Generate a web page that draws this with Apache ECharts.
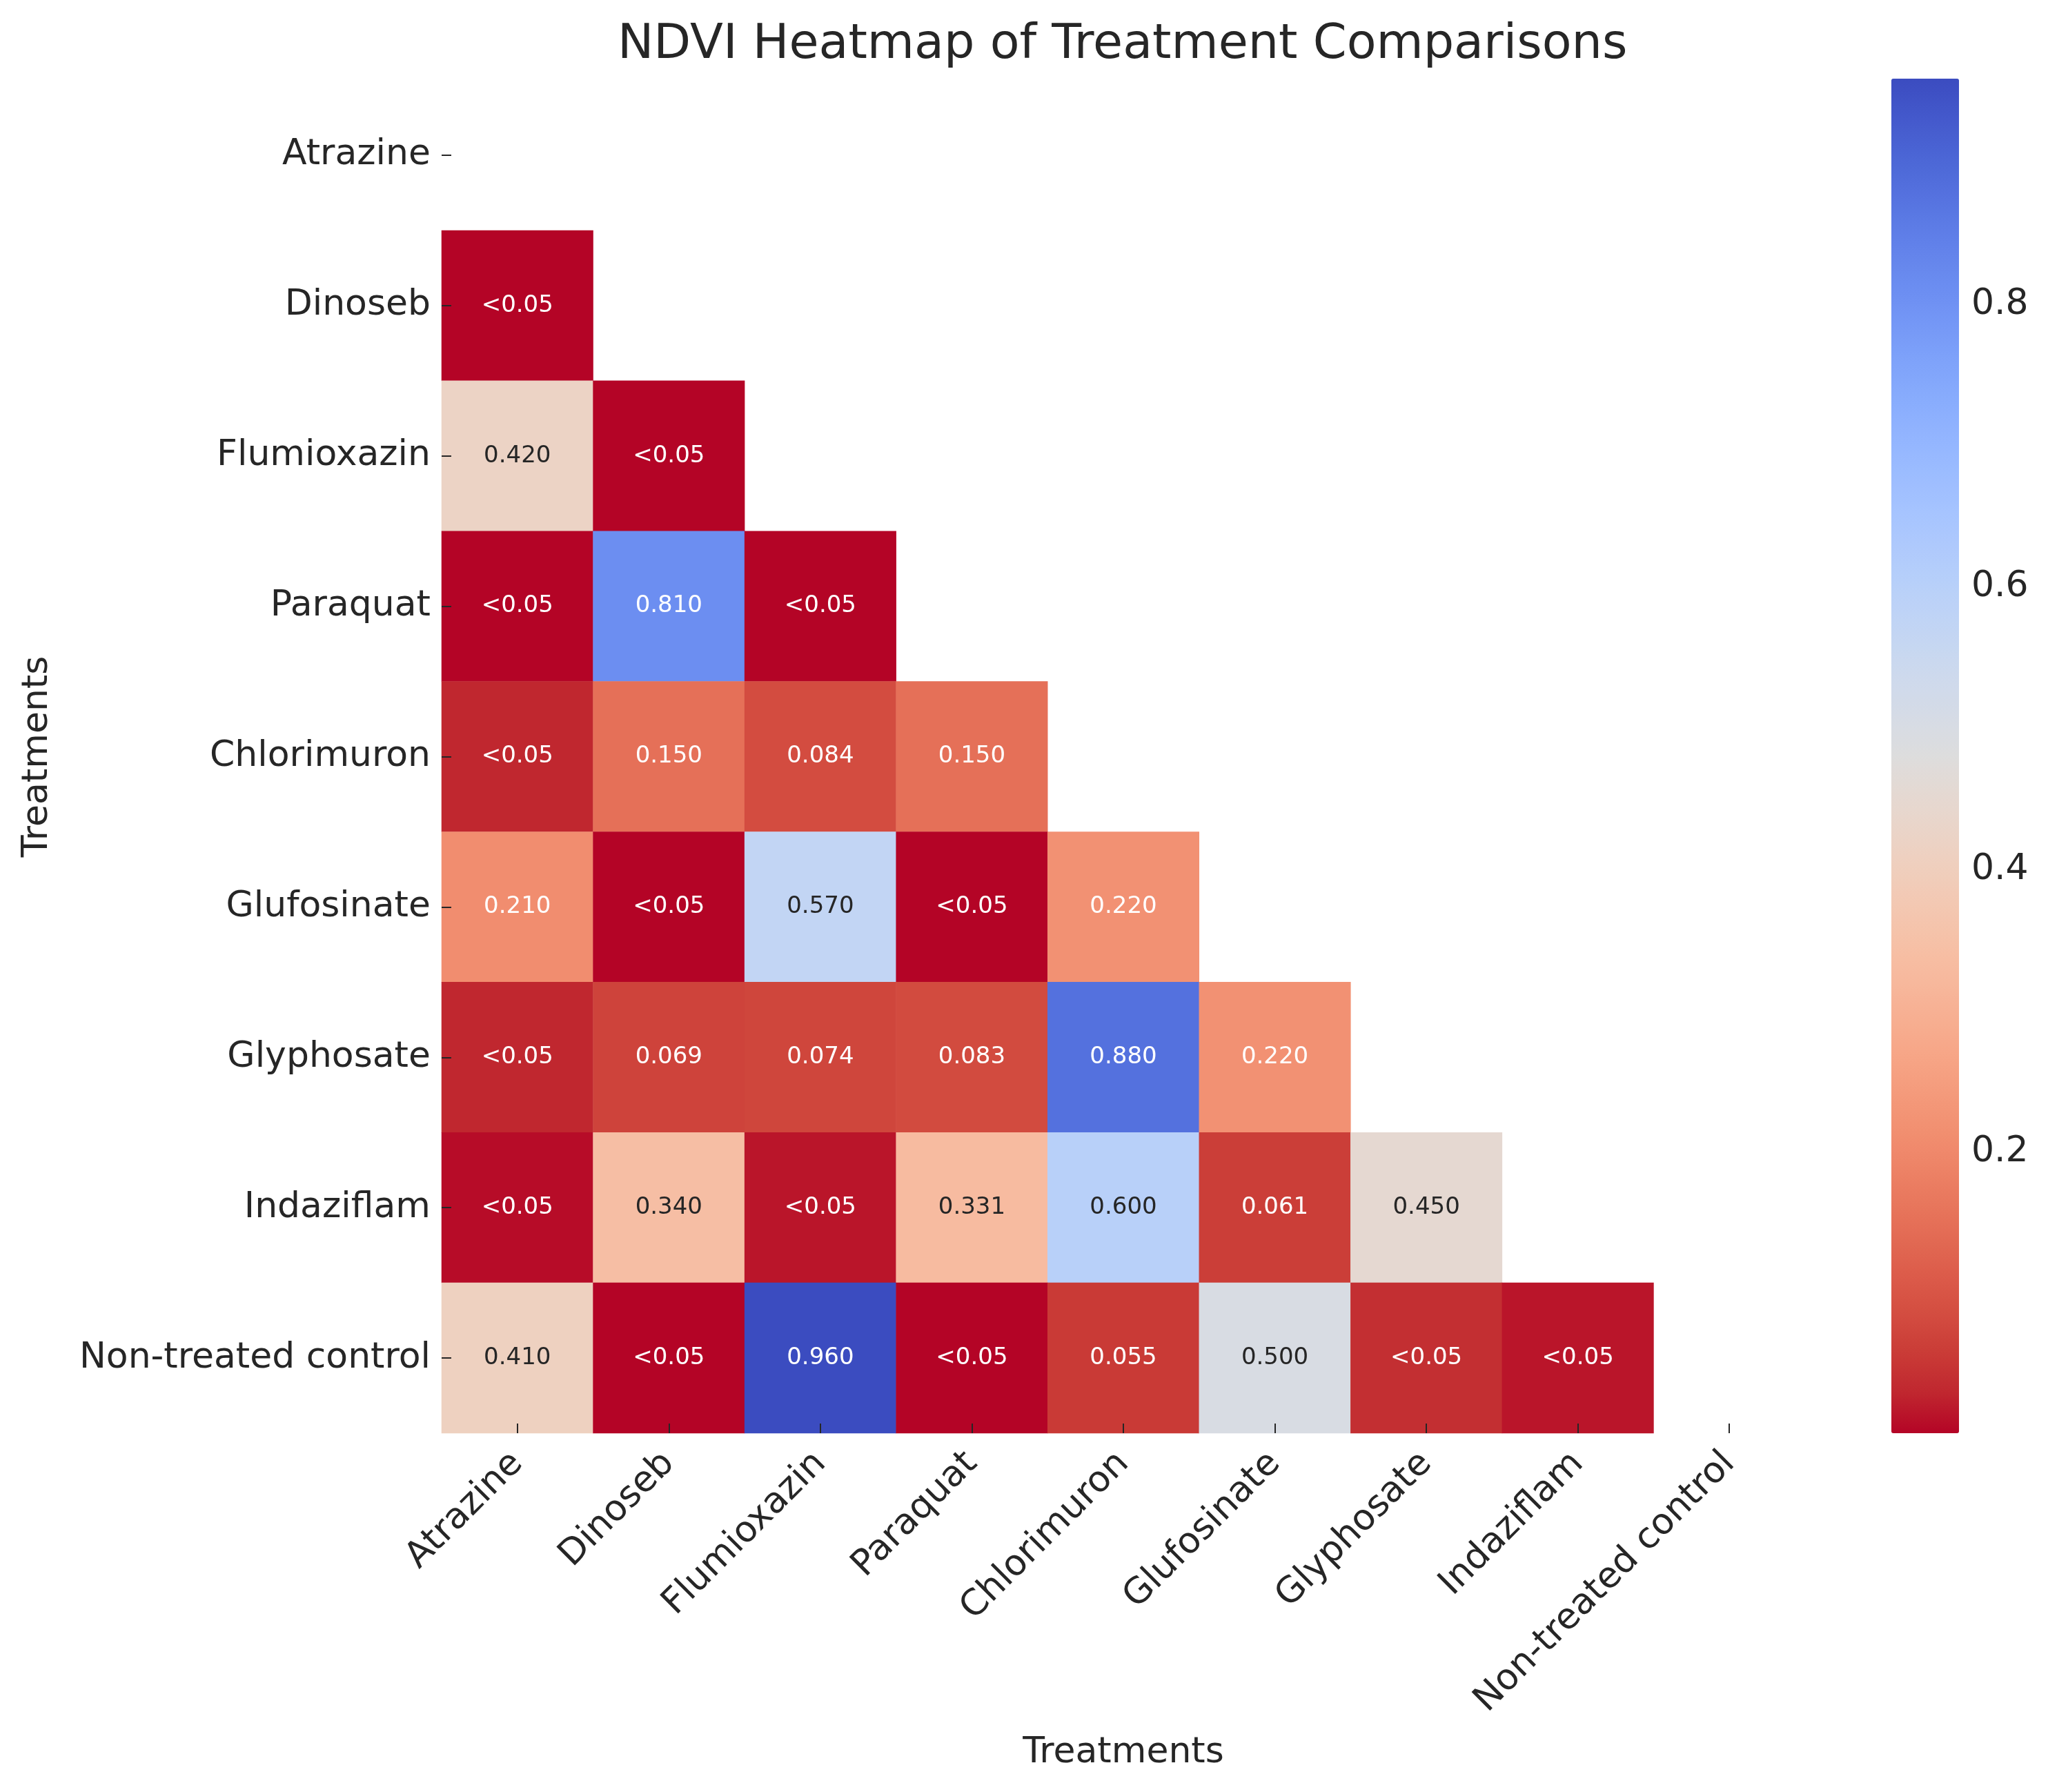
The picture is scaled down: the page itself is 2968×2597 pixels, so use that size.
<!DOCTYPE html>
<html>
<head>
<meta charset="utf-8">
<title>NDVI Heatmap</title>
<script src="https://cdn.jsdelivr.net/npm/echarts@6/dist/echarts.min.js"></script>
<style>
html, body { margin: 0; padding: 0; background: #ffffff; }
#main { width: 2968px; height: 2597px; }
</style>
</head>
<body>
<div id="main"></div>
<script>
// treatment names (same on both axes)
var treatments = ['Atrazine', 'Dinoseb', 'Flumioxazin', 'Paraquat', 'Chlorimuron',
	'Glufosinate', 'Glyphosate', 'Indaziflam', 'Non-treated control'];

// lower triangle, one row per treatment (row i has i values)
var row_dinoseb = [0.001];
var row_flumioxazin = [0.420, 0.001];
var row_paraquat = [0.001, 0.810, 0.001];
var row_chlorimuron = [0.030, 0.150, 0.084, 0.150];
var row_glufosinate = [0.210, 0.001, 0.570, 0.001, 0.220];
var row_glyphosate = [0.030, 0.069, 0.074, 0.083, 0.880, 0.220];
var row_indaziflam = [0.008, 0.340, 0.015, 0.331, 0.600, 0.061, 0.450];
var row_control = [0.410, 0.001, 0.960, 0.001, 0.055, 0.500, 0.040, 0.015];

var rows = [[], row_dinoseb, row_flumioxazin, row_paraquat, row_chlorimuron,
	row_glufosinate, row_glyphosate, row_indaziflam, row_control];

// colour bar tick labels
var cbar_ticks = [0.2, 0.4, 0.6, 0.8];

// coolwarm reversed (low = red, high = blue)
var coolwarm_r = ['#b40426', '#c0282f', '#cb3e38', '#d55042', '#de604d', '#e57058',
	'#ec7f63', '#f18d6f', '#f49a7b', '#f7a688', '#f7b194', '#f7bba0', '#f5c4ac',
	'#f1ccb8', '#ecd3c5', '#e5d8d1', '#dddddd', '#d5dbe6', '#ccd9ee', '#c2d5f4',
	'#b8d0f9', '#aec9fd', '#a3c2ff', '#98b9ff', '#8db0fe', '#82a6fb', '#779af7',
	'#6c8ef1', '#6282ea', '#5775e1', '#4d68d7', '#445acc', '#3b4cc0'];

var heat_data = [];
var vmin = 1, vmax = 0;
for (var i = 0; i < rows.length; i++) {
	for (var j = 0; j < rows[i].length; j++) {
		var v = rows[i][j];
		if (v < vmin) vmin = v;
		if (v > vmax) vmax = v;
		heat_data.push({
			value: [j, i, v],
			label: { color: (v > 0.3 && v < 0.7) ? '#262626' : '#ffffff' }
		});
	}
}

var font = 'DejaVu Sans';
var dom = document.getElementById('main');
var myChart = echarts.init(dom, null, { renderer: 'canvas' });

var option = {
	backgroundColor: '#ffffff',
	animation: false,
	title: {
		text: 'NDVI Heatmap of Treatment Comparisons',
		left: 890,
		top: 26,
		textStyle: { fontFamily: font, fontSize: 70, fontWeight: 'normal', color: '#262626' }
	},
	grid: [
		{ left: 640, top: 116, width: 1976, height: 1961 },
		{ left: 2741, top: 114, width: 98, height: 1963 }
	],
	xAxis: [
		{
			type: 'category',
			gridIndex: 0,
			z: 5,
			data: treatments,
			name: 'Treatments',
			nameLocation: 'middle',
			nameGap: 437,
			nameTextStyle: { fontFamily: font, fontSize: 52, color: '#262626' },
			axisLine: { show: false },
			axisTick: { show: true, inside: true, alignWithLabel: true, length: 14,
				lineStyle: { color: '#262626', width: 2 } },
			axisLabel: { rotate: 45, margin: 36, interval: 0, fontFamily: font,
				fontSize: 52, color: '#262626' },
			splitLine: { show: false }
		},
		{ type: 'value', gridIndex: 1, show: false, min: 0, max: 1 }
	],
	yAxis: [
		{
			type: 'category',
			gridIndex: 0,
			z: 5,
			data: treatments,
			inverse: true,
			name: 'Treatments',
			nameLocation: 'middle',
			nameGap: 560,
			nameTextStyle: { fontFamily: font, fontSize: 52, color: '#262626' },
			axisLine: { show: false },
			axisTick: { show: true, inside: true, alignWithLabel: true, length: 14,
				lineStyle: { color: '#262626', width: 2 } },
			axisLabel: { margin: 16, interval: 0, fontFamily: font, fontSize: 52, color: '#262626' },
			splitLine: { show: false }
		},
		{
			type: 'value',
			gridIndex: 1,
			position: 'right',
			min: vmin,
			max: vmax,
			axisLine: { show: false },
			axisTick: { show: true, length: 12, customValues: cbar_ticks,
				lineStyle: { color: '#262626', width: 2 } },
			axisLabel: { margin: 18, customValues: cbar_ticks, fontFamily: font,
				fontSize: 52, color: '#262626',
				formatter: function (val) { return val.toFixed(1); } },
			splitLine: { show: false }
		}
	],
	visualMap: {
		type: 'continuous',
		seriesIndex: 0,
		min: vmin,
		max: vmax,
		calculable: false,
		realtime: false,
		show: true,
		text: null,
		showLabel: false,
		orient: 'vertical',
		left: 2741,
		top: 114,
		padding: 0,
		itemWidth: 98,
		itemHeight: 1963,
		inRange: { color: coolwarm_r }
	},
	series: [
		{
			type: 'heatmap',
			xAxisIndex: 0,
			yAxisIndex: 0,
			data: heat_data,
			label: {
				show: true,
				fontFamily: font,
				fontSize: 34,
				formatter: function (p) {
					var v = p.value[2];
					return v < 0.05 ? '<0.05' : v.toFixed(3);
				}
			},
			emphasis: { disabled: true }
		}
	]
};

if (option && typeof option === 'object') {
	myChart.setOption(option, true);
}
</script>
</body>
</html>
